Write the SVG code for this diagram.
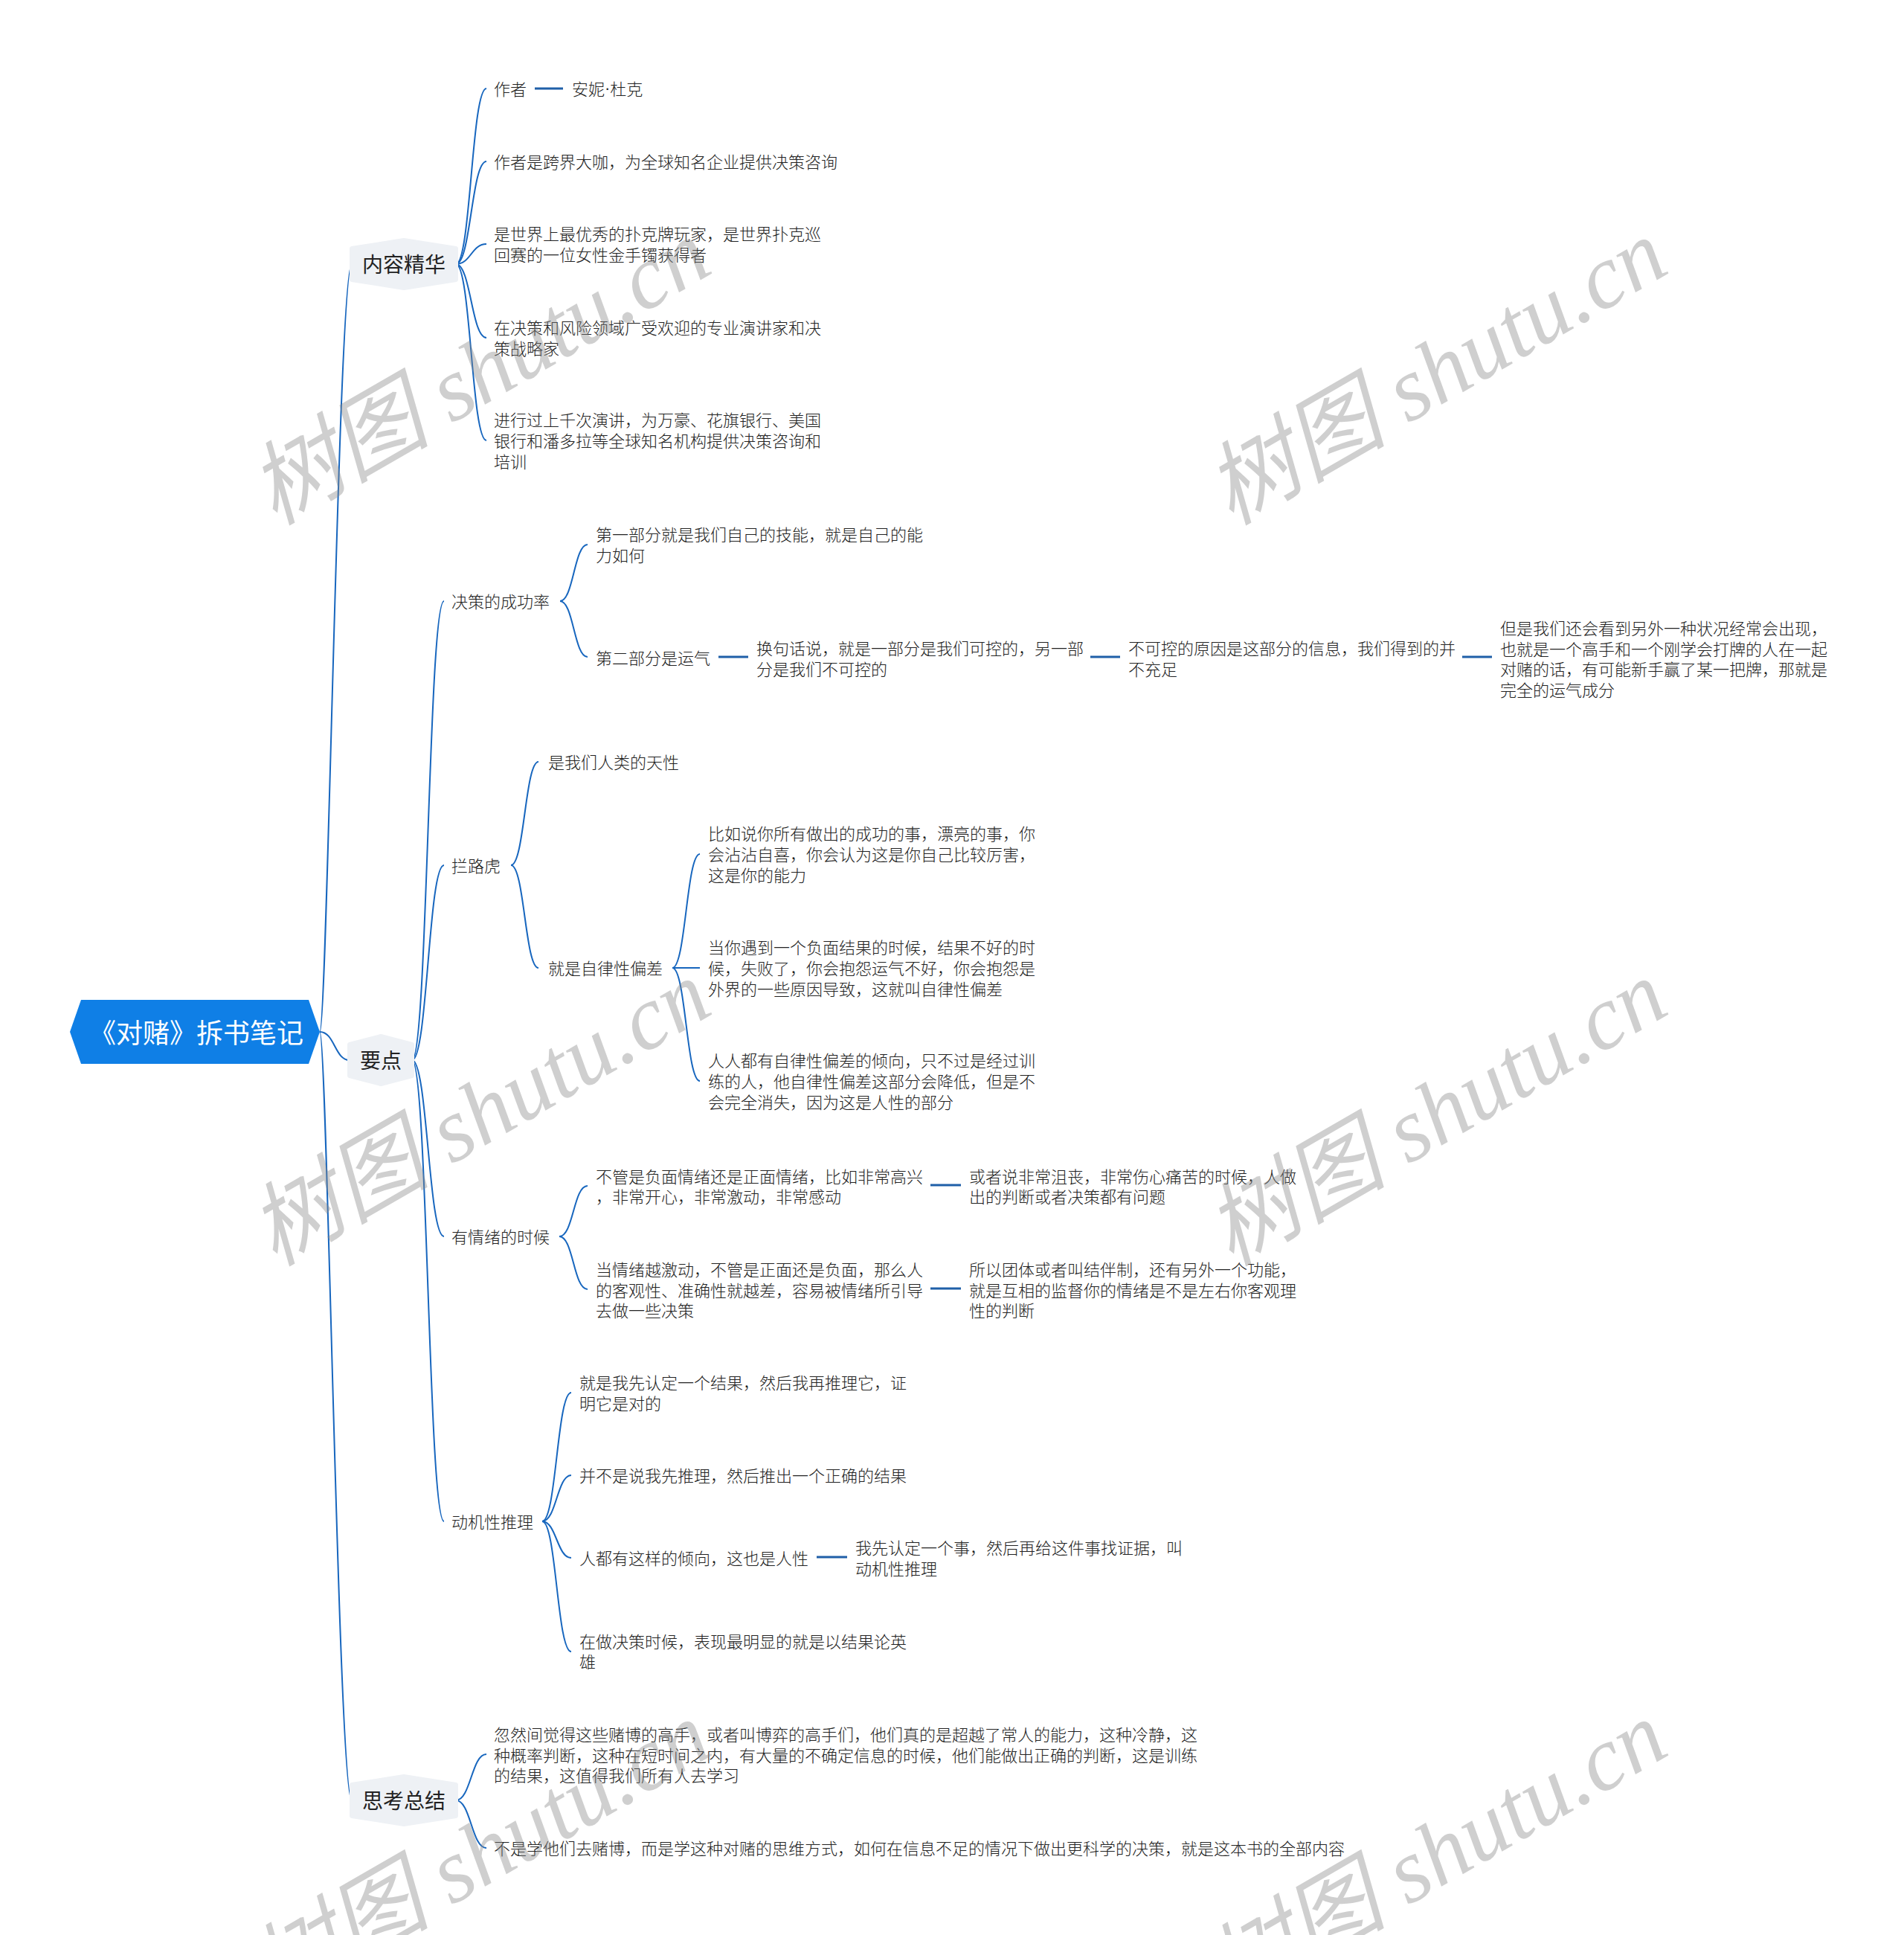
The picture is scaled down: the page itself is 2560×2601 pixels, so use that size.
<svg xmlns="http://www.w3.org/2000/svg" width="2560" height="2601" viewBox="0 0 2560 2601">
<style>
text{font-family:"Noto Sans CJK SC","Noto Sans",sans-serif;dominant-baseline:central}
.t{font-size:22px;fill:#222;font-weight:300;transform:translateY(-1.5px)}
.l1{font-size:28px;fill:#222;text-anchor:middle;transform:translateY(-1.5px)}
.root{font-size:36px;fill:#fff;text-anchor:middle;transform:translateY(-1.5px)}
.dot{font-family:"Liberation Sans",sans-serif}
.hex1{fill:#EEF1F5;stroke:#EEF1F5;stroke-width:6;stroke-linejoin:round}
.c{fill:none;stroke:#1766BE;stroke-width:2}
.h{fill:none;stroke:#1F5FA8;stroke-width:3}
.wm{font-family:"Liberation Serif","Noto Sans CJK SC",serif;font-style:italic;font-size:122px;fill:#888;opacity:0.4;text-anchor:middle}
</style>
<rect width="2560" height="2601" fill="#fff"/>
<g id="connectors">
<path class="c" d="M430,1387 C440,1387 455,355 473,355"/>
<path class="c" d="M430,1387 C450,1387 450,1425 470,1425"/>
<path class="c" d="M430,1387 C440,1387 455,2420 473,2420"/>
<path class="c" d="M613,355 C633,355 634,119 654,119"/>
<path class="c" d="M613,355 C633,355 634,217 654,217"/>
<path class="c" d="M613,355 C633,355 634,328 654,328"/>
<path class="c" d="M613,355 C633,355 634,454 654,454"/>
<path class="c" d="M613,355 C633,355 634,592 654,592"/>
<path class="c" d="M554,1425 C575,1425 576,808 597,808"/>
<path class="c" d="M554,1425 C575,1425 576,1163 597,1163"/>
<path class="c" d="M554,1425 C575,1425 576,1662 597,1662"/>
<path class="c" d="M554,1425 C575,1425 576,2045 597,2045"/>
<path class="c" d="M753,808 C771,808 772,732 790,732"/>
<path class="c" d="M753,808 C771,808 772,883 790,883"/>
<path class="c" d="M687,1163 C705,1163 706,1024 724,1024"/>
<path class="c" d="M687,1163 C705,1163 706,1301 724,1301"/>
<path class="c" d="M904,1301 C922,1301 923,1148 941,1148"/>
<path class="c" d="M904,1301 L941,1301"/>
<path class="c" d="M904,1301 C922,1301 923,1453 941,1453"/>
<path class="c" d="M752,1662 C771,1662 771,1594 790,1594"/>
<path class="c" d="M752,1662 C771,1662 771,1733 790,1733"/>
<path class="c" d="M729,2045 C748,2045 749,1872 768,1872"/>
<path class="c" d="M729,2045 C748,2045 749,1983 768,1983"/>
<path class="c" d="M729,2045 C748,2045 749,2094 768,2094"/>
<path class="c" d="M729,2045 C748,2045 749,2220 768,2220"/>
<path class="c" d="M613,2420 C633,2420 634,2358 654,2358"/>
<path class="c" d="M613,2420 C633,2420 634,2484 654,2484"/>
<path class="h" d="M719,119 H757"/>
<path class="h" d="M966,883 H1006"/>
<path class="h" d="M1466,883 H1506"/>
<path class="h" d="M1966,883 H2006"/>
<path class="h" d="M1251,1593 H1292"/>
<path class="h" d="M1251,1732 H1292"/>
<path class="h" d="M1098,2093 H1139"/>
</g>
<g id="root">
<polygon points="94,1387 109,1344 415,1344 430,1387 415,1430 109,1430" fill="#0F7FE6"/>
<text class="root" x="264" y="1387">《对赌》拆书笔记</text>
</g>
<g id="n-neirong">
<polygon class="hex1" points="473,334 543,323 613,334 613,376 543,387 473,376"/>
<text class="l1" x="543" y="355">内容精华</text>
</g>
<g id="n-yaodian">
<polygon class="hex1" points="470,1404 512,1393 554,1404 554,1446 512,1457 470,1446"/>
<text class="l1" x="512" y="1425">要点</text>
</g>
<g id="n-sikao">
<polygon class="hex1" points="473,2399 543,2388 613,2399 613,2441 543,2452 473,2441"/>
<text class="l1" x="543" y="2420">思考总结</text>
</g>
<g id="n-zuozhe"><text class="t" x="664" y="119">作者</text></g>
<g id="n-anni"><text class="t" x="769" y="119">安妮<tspan class="dot">·</tspan>杜克</text></g>
<g id="n-dakai"><text class="t" x="664" y="217">作者是跨界大咖，为全球知名企业提供决策咨询</text></g>
<g id="n-puke"><text class="t"><tspan x="664" y="314">是世界上最优秀的扑克牌玩家，是世界扑克巡</tspan><tspan x="664" y="342">回赛的一位女性金手镯获得者</tspan></text></g>
<g id="n-yanjiang"><text class="t"><tspan x="664" y="440">在决策和风险领域广受欢迎的专业演讲家和决</tspan><tspan x="664" y="468">策战略家</tspan></text></g>
<g id="n-shangqian"><text class="t"><tspan x="664" y="564">进行过上千次演讲，为万豪、花旗银行、美国</tspan><tspan x="664" y="592">银行和潘多拉等全球知名机构提供决策咨询和</tspan><tspan x="664" y="620">培训</tspan></text></g>
<g id="n-chenggonglv"><text class="t" x="607" y="808">决策的成功率</text></g>
<g id="n-diyi"><text class="t"><tspan x="801" y="718">第一部分就是我们自己的技能，就是自己的能</tspan><tspan x="801" y="746">力如何</tspan></text></g>
<g id="n-dier"><text class="t" x="801" y="884">第二部分是运气</text></g>
<g id="n-huanju"><text class="t"><tspan x="1017" y="871">换句话说，就是一部分是我们可控的，另一部</tspan><tspan x="1017" y="899">分是我们不可控的</tspan></text></g>
<g id="n-bukekong"><text class="t"><tspan x="1517" y="871">不可控的原因是这部分的信息，我们得到的并</tspan><tspan x="1517" y="899">不充足</tspan></text></g>
<g id="n-danshi"><text class="t"><tspan x="2017" y="844">但是我们还会看到另外一种状况经常会出现，</tspan><tspan x="2017" y="872">也就是一个高手和一个刚学会打牌的人在一起</tspan><tspan x="2017" y="899">对赌的话，有可能新手赢了某一把牌，那就是</tspan><tspan x="2017" y="927">完全的运气成分</tspan></text></g>
<g id="n-lanluhu"><text class="t" x="607" y="1163">拦路虎</text></g>
<g id="n-tianxing"><text class="t" x="737" y="1024">是我们人类的天性</text></g>
<g id="n-zilv"><text class="t" x="737" y="1301">就是自律性偏差</text></g>
<g id="n-biru"><text class="t"><tspan x="952" y="1120">比如说你所有做出的成功的事，漂亮的事，你</tspan><tspan x="952" y="1148">会沾沾自喜，你会认为这是你自己比较厉害，</tspan><tspan x="952" y="1176">这是你的能力</tspan></text></g>
<g id="n-dangni"><text class="t"><tspan x="952" y="1273">当你遇到一个负面结果的时候，结果不好的时</tspan><tspan x="952" y="1301">候，失败了，你会抱怨运气不好，你会抱怨是</tspan><tspan x="952" y="1329">外界的一些原因导致，这就叫自律性偏差</tspan></text></g>
<g id="n-renren"><text class="t"><tspan x="952" y="1425">人人都有自律性偏差的倾向，只不过是经过训</tspan><tspan x="952" y="1453">练的人，他自律性偏差这部分会降低，但是不</tspan><tspan x="952" y="1481">会完全消失，因为这是人性的部分</tspan></text></g>
<g id="n-qingxu"><text class="t" x="607" y="1662">有情绪的时候</text></g>
<g id="n-buguan"><text class="t"><tspan x="801" y="1581">不管是负面情绪还是正面情绪，比如非常高兴</tspan><tspan x="801" y="1608">，非常开心，非常激动，非常感动</tspan></text></g>
<g id="n-huozhe"><text class="t"><tspan x="1303" y="1581">或者说非常沮丧，非常伤心痛苦的时候，人做</tspan><tspan x="1303" y="1608">出的判断或者决策都有问题</tspan></text></g>
<g id="n-yuejidong"><text class="t"><tspan x="801" y="1706">当情绪越激动，不管是正面还是负面，那么人</tspan><tspan x="801" y="1734">的客观性、准确性就越差，容易被情绪所引导</tspan><tspan x="801" y="1761">去做一些决策</tspan></text></g>
<g id="n-tuanti"><text class="t"><tspan x="1303" y="1706">所以团体或者叫结伴制，还有另外一个功能，</tspan><tspan x="1303" y="1734">就是互相的监督你的情绪是不是左右你客观理</tspan><tspan x="1303" y="1761">性的判断</tspan></text></g>
<g id="n-dongji"><text class="t" x="607" y="2045">动机性推理</text></g>
<g id="n-xianrending"><text class="t"><tspan x="779" y="1858">就是我先认定一个结果，然后我再推理它，证</tspan><tspan x="779" y="1886">明它是对的</tspan></text></g>
<g id="n-bingbushi"><text class="t" x="779" y="1983">并不是说我先推理，然后推出一个正确的结果</text></g>
<g id="n-renxing"><text class="t" x="779" y="2094">人都有这样的倾向，这也是人性</text></g>
<g id="n-zhengju"><text class="t"><tspan x="1150" y="2080">我先认定一个事，然后再给这件事找证据，叫</tspan><tspan x="1150" y="2108">动机性推理</tspan></text></g>
<g id="n-yingxiong"><text class="t"><tspan x="779" y="2206">在做决策时候，表现最明显的就是以结果论英</tspan><tspan x="779" y="2233">雄</tspan></text></g>
<g id="n-huran"><text class="t"><tspan x="664" y="2331">忽然间觉得这些赌博的高手，或者叫博弈的高手们，他们真的是超越了常人的能力，这种冷静，这</tspan><tspan x="664" y="2359">种概率判断，这种在短时间之内，有大量的不确定信息的时候，他们能做出正确的判断，这是训练</tspan><tspan x="664" y="2386">的结果，这值得我们所有人去学习</tspan></text></g>
<g id="n-buxue"><text class="t" x="664" y="2484">不是学他们去赌博，而是学这种对赌的思维方式，如何在信息不足的情况下做出更科学的决策，就是这本书的全部内容</text></g>
<g id="watermarks">
<text class="wm" x="645" y="500" transform="rotate(-30 645 500)">树图 shutu.cn</text>
<text class="wm" x="1931" y="500" transform="rotate(-30 1931 500)">树图 shutu.cn</text>
<text class="wm" x="645" y="1496" transform="rotate(-30 645 1496)">树图 shutu.cn</text>
<text class="wm" x="1931" y="1496" transform="rotate(-30 1931 1496)">树图 shutu.cn</text>
<text class="wm" x="645" y="2492" transform="rotate(-30 645 2492)">树图 shutu.cn</text>
<text class="wm" x="1931" y="2492" transform="rotate(-30 1931 2492)">树图 shutu.cn</text>
</g>
</svg>
